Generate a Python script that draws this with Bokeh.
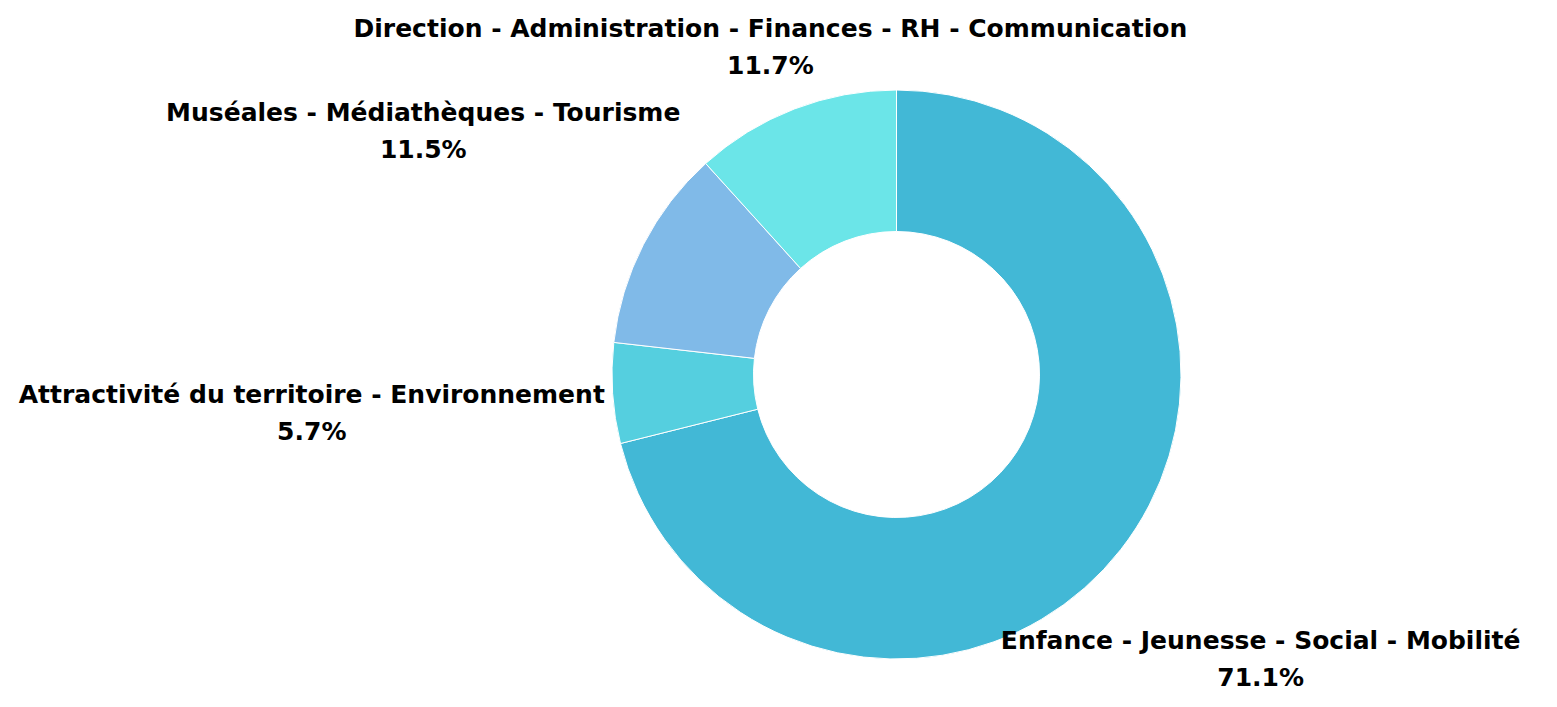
import math
from bokeh.plotting import figure
from bokeh.models import ColumnDataSource, Range1d
from bokeh.core.properties import value
from bokeh.embed import file_html
from bokeh.resources import INLINE

categories = [
    "Enfance - Jeunesse - Social - Mobilité",
    "Attractivité du territoire - Environnement",
    "Muséales - Médiathèques - Tourisme",
    "Direction - Administration - Finances - RH - Communication",
]
shares = [71.1, 5.7, 11.5, 11.7]
colors = ["#42b8d6", "#55cfdf", "#80bae8", "#6be5e8"]

# layout parameters (pixels)
W, H = 1541, 691
CX, CY = 896, 317
R_OUT, R_IN = 284.5, 143
label_r = [462, 586, 532, 351]
LINE_GAP = 18.5
MIN_Y = 33

total = sum(shares)
starts, ends, lx, ly, pcts = [], [], [], [], []
cum = 0.0
for i, s in enumerate(shares):
    a0 = math.pi / 2 - 2 * math.pi * cum / total
    cum += s
    a1 = math.pi / 2 - 2 * math.pi * cum / total
    starts.append(a0)
    ends.append(a1)
    mid = (a0 + a1) / 2
    lx.append(CX + label_r[i] * math.cos(mid))
    ly.append(max(CY + label_r[i] * math.sin(mid), MIN_Y))
    pcts.append(f"{s:.1f}%")

src = ColumnDataSource(dict(start=starts, end=ends, color=colors))
p = figure(width=W, height=H, output_backend="svg", toolbar_location=None,
           x_range=Range1d(0, W), y_range=Range1d(0, H), min_border=0)
p.axis.visible = False
p.grid.visible = False
p.outline_line_color = None

p.annular_wedge(x=CX, y=CY, inner_radius=R_IN, outer_radius=R_OUT,
                start_angle="start", end_angle="end", direction="clock",
                fill_color="color", line_color="white", line_width=1, source=src)

lsrc = ColumnDataSource(dict(x=lx, y1=[v + LINE_GAP for v in ly],
                             y2=[v - LINE_GAP for v in ly],
                             name=categories, pct=pcts))
for col, yy in (("name", "y1"), ("pct", "y2")):
    p.text(x="x", y=yy, text=col, source=lsrc, text_align="center",
           text_baseline="middle", text_font=value("DejaVu Sans"),
           text_font_style="bold", text_font_size="25px", text_color="#000000")

open("out.html", "w").write(file_html(p, INLINE))
